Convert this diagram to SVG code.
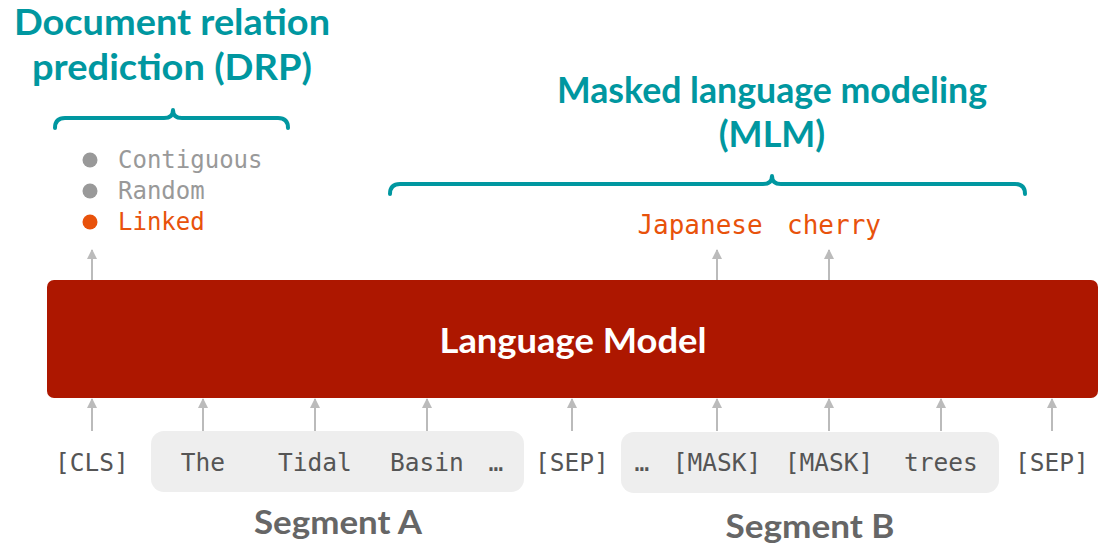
<svg xmlns="http://www.w3.org/2000/svg" width="1099" height="546" viewBox="0 0 1099 546">
<defs>
<style>
.title{font-family:Lato,"Liberation Sans",sans-serif;font-weight:bold;font-size:36px;fill:#0097A0;text-anchor:middle}
.brace{fill:none;stroke:#0097A0;stroke-width:4;stroke-linecap:round;stroke-linejoin:round}
.tok{font-family:"DejaVu Sans Mono","Liberation Mono",monospace;font-size:24.5px;fill:#555;text-anchor:middle}
.opt{font-family:"DejaVu Sans Mono","Liberation Mono",monospace;font-size:24px;fill:#999}
.pred{font-family:"DejaVu Sans Mono","Liberation Mono",monospace;font-size:26px;fill:#E8520B;text-anchor:middle}
.seg{font-family:Lato,"Liberation Sans",sans-serif;font-weight:bold;font-size:32px;fill:#666;text-anchor:middle}
.arrow{stroke:#BBB;stroke-width:2;fill:none;marker-end:url(#ah)}
.segbox{fill:#EEEEEE}
</style>
<marker id="ah" markerWidth="10" markerHeight="10" refX="9" refY="5" orient="auto" markerUnits="userSpaceOnUse" viewBox="0 0 10 10">
<path d="M0,0 L10,5 L0,10 Z" fill="#BBB"/>
</marker>
</defs>

<g id="drp-title">
<text class="title" x="172" y="35" textLength="316" lengthAdjust="spacingAndGlyphs">Document relation</text>
<text class="title" x="172" y="80" textLength="280" lengthAdjust="spacingAndGlyphs">prediction (DRP)</text>
<path class="brace" d="M55,128 Q55,118 65,118 L164,118 Q173,118 173,110 Q173,118 182,118 L278,118 Q288,118 288,128"/>
</g>

<g id="drp-options">
<circle cx="90" cy="160" r="7.5" fill="#999"/>
<text class="opt" x="118" y="168">Contiguous</text>
<circle cx="90" cy="191" r="7.5" fill="#999"/>
<text class="opt" x="118" y="199">Random</text>
<circle cx="90" cy="222" r="7.5" fill="#E8520B"/>
<text class="opt" x="118" y="230" style="fill:#E8520B">Linked</text>
</g>

<g id="mlm-title">
<text class="title" x="772" y="103" textLength="430" lengthAdjust="spacingAndGlyphs">Masked language modeling</text>
<text class="title" x="772" y="147">(MLM)</text>
<path class="brace" d="M390,194 Q390,184 400,184 L763,184 Q772,184 772,176 Q772,184 781,184 L1015,184 Q1025,184 1025,194"/>
</g>

<g id="mlm-preds">
<text class="pred" x="700" y="234">Japanese</text>
<text class="pred" x="834" y="234">cherry</text>
</g>

<g id="language-model">
<rect x="47" y="280" width="1051" height="118" rx="7" fill="#AD1700"/>
<text x="573" y="353" textLength="267" lengthAdjust="spacingAndGlyphs" style="font-family:Lato,'Liberation Sans',sans-serif;font-weight:bold;font-size:35px;fill:#fff;text-anchor:middle">Language Model</text>
</g>

<g id="segment-a">
<rect class="segbox" x="151" y="431" width="373" height="61" rx="13"/>
<text class="seg" x="338" y="534" textLength="168" lengthAdjust="spacingAndGlyphs">Segment A</text>
</g>
<g id="segment-b">
<rect class="segbox" x="621" y="432" width="378" height="61" rx="13"/>
<text class="seg" x="810" y="538" textLength="169" lengthAdjust="spacingAndGlyphs">Segment B</text>
</g>

<g id="tokens">
<text class="tok" x="92" y="471">[CLS]</text>
<text class="tok" x="203" y="471">The</text>
<text class="tok" x="315" y="471">Tidal</text>
<text class="tok" x="427" y="471">Basin</text>
<text class="tok" x="496" y="471">…</text>
<text class="tok" x="572" y="471">[SEP]</text>
<text class="tok" x="642" y="471">…</text>
<text class="tok" x="717" y="471">[MASK]</text>
<text class="tok" x="829" y="471">[MASK]</text>
<text class="tok" x="941" y="471">trees</text>
<text class="tok" x="1052" y="471">[SEP]</text>
</g>

<g id="connectors">
<line class="arrow" x1="92" y1="431" x2="92" y2="399"/>
<line class="arrow" x1="203" y1="431" x2="203" y2="399"/>
<line class="arrow" x1="315" y1="431" x2="315" y2="399"/>
<line class="arrow" x1="427" y1="431" x2="427" y2="399"/>
<line class="arrow" x1="572" y1="431" x2="572" y2="399"/>
<line class="arrow" x1="717" y1="431" x2="717" y2="399"/>
<line class="arrow" x1="829" y1="431" x2="829" y2="399"/>
<line class="arrow" x1="941" y1="431" x2="941" y2="399"/>
<line class="arrow" x1="1052" y1="431" x2="1052" y2="399"/>
<line class="arrow" x1="92" y1="280" x2="92" y2="250"/>
<line class="arrow" x1="717" y1="280" x2="717" y2="250"/>
<line class="arrow" x1="829" y1="280" x2="829" y2="250"/>
</g>
</svg>
